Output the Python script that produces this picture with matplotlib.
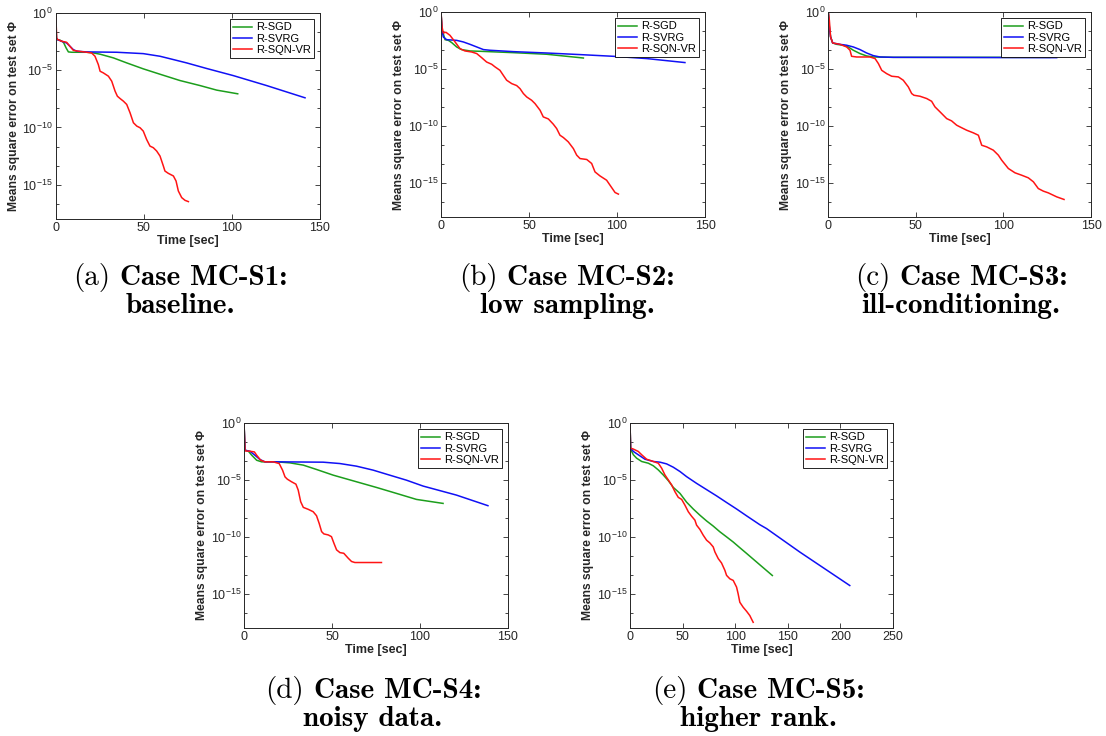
import matplotlib
matplotlib.use("Agg")
import matplotlib.pyplot as plt
from matplotlib.ticker import FixedLocator, NullFormatter, LogFormatterSciNotation
import numpy as np

plt.rcParams["font.family"] = ["Liberation Sans", "DejaVu Sans"]
plt.rcParams["mathtext.fontset"] = "custom"
plt.rcParams["mathtext.rm"] = "Liberation Sans"
plt.rcParams["mathtext.it"] = "Liberation Sans:italic"
plt.rcParams["mathtext.bf"] = "Liberation Sans:bold"

methods = ["R-SGD", "R-SVRG", "R-SQN-VR"]
colors = ["#1c9e1c", "#1010f5", "#ff1414"]

# each curve: time [sec] and log10 of the mean square error

# (a) MC-S1
a_sgd_t = [0, 0.4, 1.0, 2.5, 4.4, 5.9, 7.2, 9.1, 17.6, 21.4, 25.2, 32.7, 40.3, 49.7, 59.2, 70.5, 81.9, 91.4, 103.3]
a_sgd_e = [0, -2.18, -2.33, -2.38, -2.56, -3.05, -3.40, -3.43, -3.43, -3.49, -3.60, -3.92, -4.36, -4.88, -5.35, -5.90, -6.34, -6.74, -7.06]
a_svrg_t = [0, 0.4, 1.0, 3.4, 6.2, 8.1, 10.0, 11.9, 17.6, 34.6, 49.7, 59.2, 66.8, 74.3, 85.7, 100.8, 119.7, 141.5]
a_svrg_e = [0, -2.18, -2.33, -2.47, -2.62, -2.91, -3.20, -3.34, -3.40, -3.43, -3.55, -3.78, -4.07, -4.36, -4.85, -5.47, -6.34, -7.41]
a_sqn_t = [0, 0.6, 3.4, 6.2, 8.1, 10.0, 12.9, 17.6, 20.4, 22.3, 24.2, 25.2, 27.0, 29.9, 31.8, 33.7, 35.0, 36.5, 38.4, 40.3,
           42.2, 44.1, 46.0, 47.9, 49.7, 51.6, 53.5, 55.4, 57.3, 59.2, 61.1, 62.0, 63.9, 66.8, 68.3, 69.6, 71.5, 73.4, 75.3]
a_sqn_e = [0, -2.27, -2.47, -2.56, -2.91, -3.26, -3.34, -3.43, -3.49, -3.78, -4.51, -5.09, -5.23, -5.52, -5.96, -6.83, -7.27, -7.47, -7.70, -7.99,
           -8.72, -9.59, -9.88, -10.03, -10.32, -11.05, -11.63, -11.77, -12.06, -12.50, -13.37, -13.81, -14.01, -14.24, -14.68, -15.55, -16.13, -16.37, -16.48]

# (b) MC-S2
b_sgd_t = [0, 0.6, 1.3, 2.3, 4.2, 6.1, 8.9, 11.7, 16.5, 22.2, 41.1, 60.0, 71.4, 80.9]
b_sgd_e = [0, -1.61, -1.90, -2.43, -2.49, -2.69, -3.07, -3.30, -3.42, -3.45, -3.57, -3.71, -3.89, -4.04]
b_svrg_t = [0, 0.6, 1.3, 3.2, 8.9, 12.7, 16.5, 20.3, 24.1, 27.8, 41.1, 60.0, 79.0, 97.9, 116.9, 138.6]
b_svrg_e = [0, -1.61, -2.19, -2.43, -2.49, -2.63, -2.84, -3.07, -3.30, -3.36, -3.48, -3.60, -3.74, -3.89, -4.09, -4.44]
b_sqn_t = [0, 0.6, 1.3, 2.8, 5.1, 8.0, 10.8, 13.6, 17.4, 20.3, 23.1, 25.9, 28.8, 30.7, 33.5, 35.4, 37.3, 40.2, 43.0, 44.9,
           46.8, 48.7, 51.5, 53.4, 56.3, 58.1, 61.0, 63.8, 65.7, 67.6, 69.5, 72.3, 75.2, 77.1, 79.0, 82.8, 85.6, 87.5, 90.3, 94.1,
           96.0, 98.9, 100.8]
b_sqn_e = [0, -1.32, -1.84, -1.78, -2.05, -2.63, -3.22, -3.42, -3.51, -3.65, -4.01, -4.39, -4.59, -4.82, -5.12, -5.56, -5.99, -6.29, -6.46, -6.73,
           -7.16, -7.46, -7.75, -8.04, -8.63, -9.21, -9.39, -9.85, -10.23, -10.82, -11.02, -11.40, -11.99, -12.57, -12.87, -12.95, -13.30, -14.04, -14.39, -14.77,
           -15.20, -15.85, -15.99]

# (c) MC-S3
c_sgd_t = [0, 0.6, 1.3, 2.5, 4.8, 8.6, 11.4, 14.3, 18.1, 21.9, 25.7, 37.1, 126.6]
c_sgd_e = [0, -1.32, -2.19, -2.72, -2.84, -2.92, -3.07, -3.36, -3.65, -3.86, -3.95, -3.98, -3.98]
c_svrg_t = [0, 0.6, 1.3, 2.5, 6.7, 10.5, 14.3, 18.1, 21.9, 25.7, 29.5, 37.1, 130.4]
c_svrg_e = [0, -1.32, -2.19, -2.72, -2.84, -2.92, -3.07, -3.30, -3.60, -3.83, -3.95, -3.98, -4.01]
c_sqn_t = [0, 0.6, 1.3, 2.5, 6.7, 10.5, 12.4, 13.3, 16.2, 23.8, 26.7, 28.6, 30.5, 33.3, 36.2, 40.0, 42.8, 45.7, 47.6, 48.9,
           52.4, 56.2, 59.0, 60.9, 63.8, 67.6, 70.4, 73.3, 75.2, 79.0, 82.8, 85.7, 87.6, 90.4, 94.2, 97.1, 99.0, 102.8, 106.6, 110.4,
           114.2, 117.1, 119.9, 122.8, 125.6, 130.4, 134.6]
c_sqn_e = [0, -0.73, -2.19, -2.72, -2.84, -3.07, -3.36, -3.89, -3.95, -3.95, -4.09, -4.53, -5.12, -5.41, -5.64, -5.70, -5.99, -6.58, -7.16, -7.31,
           -7.40, -7.60, -7.84, -8.33, -8.77, -9.36, -9.56, -9.94, -10.09, -10.38, -10.61, -10.82, -11.70, -11.84, -12.13, -12.57, -13.01, -13.74, -14.12, -14.33,
           -14.56, -14.91, -15.50, -15.73, -15.88, -16.23, -16.46]

# (d) MC-S4
d_sgd_t = [0, 0.6, 2.5, 4.4, 7.2, 10.0, 18.5, 26.1, 33.7, 41.2, 50.7, 63.9, 75.3, 86.6, 98.0, 113.1]
d_sgd_e = [0, -2.39, -2.48, -2.83, -3.27, -3.41, -3.41, -3.50, -3.70, -4.08, -4.58, -5.16, -5.66, -6.18, -6.71, -7.06]
d_svrg_t = [0, 0.6, 3.4, 6.2, 9.1, 11.9, 18.5, 45.0, 54.5, 63.9, 73.4, 82.8, 92.3, 101.8, 120.7, 138.6]
d_svrg_e = [0, -2.39, -2.48, -2.83, -3.21, -3.41, -3.41, -3.44, -3.56, -3.79, -4.14, -4.58, -5.02, -5.54, -6.33, -7.26]
d_sqn_t = [0, 0.6, 3.4, 5.9, 7.2, 9.5, 11.9, 16.6, 20.0, 21.9, 23.3, 24.6, 27.0, 29.5, 30.8, 32.2, 33.7, 36.5, 39.3, 41.2,
           42.7, 44.1, 45.4, 47.9, 49.7, 51.1, 52.6, 54.5, 56.7, 59.2, 61.1, 63.0, 78.1]
d_sqn_e = [0, -2.45, -2.48, -2.54, -2.83, -3.27, -3.41, -3.41, -3.56, -4.14, -4.73, -4.93, -5.16, -5.37, -5.89, -6.91, -7.41, -7.58, -7.79, -8.14,
           -8.81, -9.54, -9.74, -9.83, -9.98, -10.56, -11.14, -11.38, -11.44, -11.87, -12.16, -12.25, -12.25]

# (e) MC-S5
e_sgd_t = [0, 0.6, 1.6, 3.2, 6.3, 11.1, 17.4, 22.2, 26.9, 31.6, 36.4, 41.1, 47.5, 53.8, 60.1, 66.5, 72.8, 79.1, 85.4, 91.8,
           98.1, 104.4, 110.8, 117.1, 123.4, 135.3]
e_sgd_e = [0, -2.21, -2.50, -2.79, -3.09, -3.38, -3.53, -3.76, -4.12, -4.56, -5.06, -5.65, -6.18, -6.95, -7.55, -8.10, -8.60, -9.05, -9.55, -10.00,
           -10.45, -10.95, -11.45, -11.95, -12.45, -13.39]
e_svrg_t = [0, 0.6, 3.2, 7.9, 14.2, 22.2, 28.5, 34.8, 41.1, 47.5, 53.8, 63.3, 72.8, 82.3, 91.8, 101.3, 110.8, 123.4, 129.8, 161.4, 208.9]
e_svrg_e = [0, -2.21, -2.50, -2.79, -3.18, -3.38, -3.44, -3.59, -3.88, -4.26, -4.71, -5.30, -5.85, -6.40, -6.98, -7.55, -8.15, -8.93, -9.27, -11.33, -14.27]
e_sqn_t = [0, 0.6, 3.2, 7.9, 11.1, 15.8, 22.2, 26.9, 30.1, 33.2, 36.4, 39.6, 42.7, 45.9, 49.1, 52.2, 55.4, 58.5, 61.7, 63.3,
           66.5, 69.6, 72.8, 75.9, 79.1, 80.7, 83.9, 87.0, 90.2, 91.8, 94.9, 98.1, 101.3, 102.8, 104.4, 107.6, 110.8, 113.9, 115.5, 117.1]
e_sqn_e = [0, -2.21, -2.29, -2.50, -2.79, -3.18, -3.38, -3.53, -3.97, -4.56, -5.00, -5.44, -6.03, -6.53, -6.71, -7.21, -7.79, -8.18, -8.53, -8.97,
           -9.35, -9.85, -10.29, -10.53, -10.88, -11.32, -11.91, -12.29, -12.94, -13.38, -13.68, -13.82, -14.41, -15.00, -15.74, -16.18, -16.53, -16.91, -17.21, -17.50]

tags = ["(a)", "(b)", "(c)", "(d)", "(e)"]
titles = ["Case MC-S1:", "Case MC-S2:", "Case MC-S3:", "Case MC-S4:", "Case MC-S5:"]
descs = ["baseline.", "low sampling.", "ill-conditioning.", "noisy data.", "higher rank."]
xmaxes = [150, 150, 150, 150, 250]

curves = [
    [(a_sgd_t, a_sgd_e), (a_svrg_t, a_svrg_e), (a_sqn_t, a_sqn_e)],
    [(b_sgd_t, b_sgd_e), (b_svrg_t, b_svrg_e), (b_sqn_t, b_sqn_e)],
    [(c_sgd_t, c_sgd_e), (c_svrg_t, c_svrg_e), (c_sqn_t, c_sqn_e)],
    [(d_sgd_t, d_sgd_e), (d_svrg_t, d_svrg_e), (d_sqn_t, d_sqn_e)],
    [(e_sgd_t, e_sgd_e), (e_svrg_t, e_svrg_e), (e_sqn_t, e_sqn_e)],
]

W, H = 1106, 736
# axes boxes in pixels: left, top, right, bottom
boxes = [(55.7, 13, 320, 219), (441, 12, 705, 217), (828.3, 12, 1091, 217),
         (244, 423, 508, 628), (630, 423, 893, 628)]
# caption centre x and baselines of the two lines, in pixels
cap_pos = [(180, 285, 313), (567, 285, 313), (961, 285, 313), (373, 698, 726), (758, 698, 726)]

fig = plt.figure(figsize=(W / 100, H / 100), dpi=100)
ink = "#262626"

for i in range(5):
    l, t, r, b = boxes[i]
    ax = fig.add_axes([l / W, 1 - b / H, (r - l) / W, (b - t) / H])
    for (tt, ee), c, name in zip(curves[i], colors, methods):
        ax.plot(tt, 10.0 ** np.array(ee), color=c, lw=1.1, label=name)
    ax.set_yscale("log")
    ax.set_ylim(1e-18, 1e0)
    ax.set_xlim(0, xmaxes[i])
    ax.set_xticks(np.arange(0, xmaxes[i] + 1, 50))
    ax.yaxis.set_major_locator(FixedLocator([1e0, 1e-5, 1e-10, 1e-15]))
    ax.yaxis.set_major_formatter(LogFormatterSciNotation())
    ax.yaxis.set_minor_locator(FixedLocator(10.0 ** (-np.arange(0, 18, 5 / 3))))
    ax.yaxis.set_minor_formatter(NullFormatter())
    ax.tick_params(which="both", direction="in", top=True, right=True, colors=ink,
                   labelsize=9, width=0.6, pad=2)
    ax.tick_params(which="major", length=3.5)
    ax.tick_params(which="minor", length=2.5)
    for s in ax.spines.values():
        s.set_linewidth(0.7)
        s.set_color(ink)
    ax.set_xlabel("Time [sec]", fontsize=9, fontweight="bold", labelpad=1, color=ink)
    ax.set_ylabel("Means square error on test set Φ", fontsize=8.7, fontweight="bold", labelpad=2, color=ink)
    leg = ax.legend(loc="upper right", fontsize=8, fancybox=False, framealpha=1, edgecolor="black",
                    handlelength=1.7, handletextpad=0.3, labelspacing=0.1, borderpad=0.3, borderaxespad=0.55)
    leg.get_frame().set_linewidth(0.6)

renderer = fig.canvas.get_renderer()
cap_size = 21
for i in range(5):
    cx, y1, y2 = cap_pos[i]
    t1 = fig.text(0, 1 - y1 / H, tags[i], fontfamily="cmr10", fontsize=cap_size, va="baseline")
    t2 = fig.text(0, 1 - y1 / H, titles[i], fontfamily="cmb10", fontsize=cap_size, va="baseline")
    w1 = t1.get_window_extent(renderer).width
    w2 = t2.get_window_extent(renderer).width
    gap = 0.33 * cap_size * 100 / 72
    x0 = cx - (w1 + gap + w2) / 2
    t1.set_x(x0 / W)
    t2.set_x((x0 + w1 + gap) / W)
    fig.text(cx / W, 1 - y2 / H, descs[i], fontfamily="cmb10", fontsize=cap_size, ha="center", va="baseline")

fig.savefig("out.png", dpi=100)
